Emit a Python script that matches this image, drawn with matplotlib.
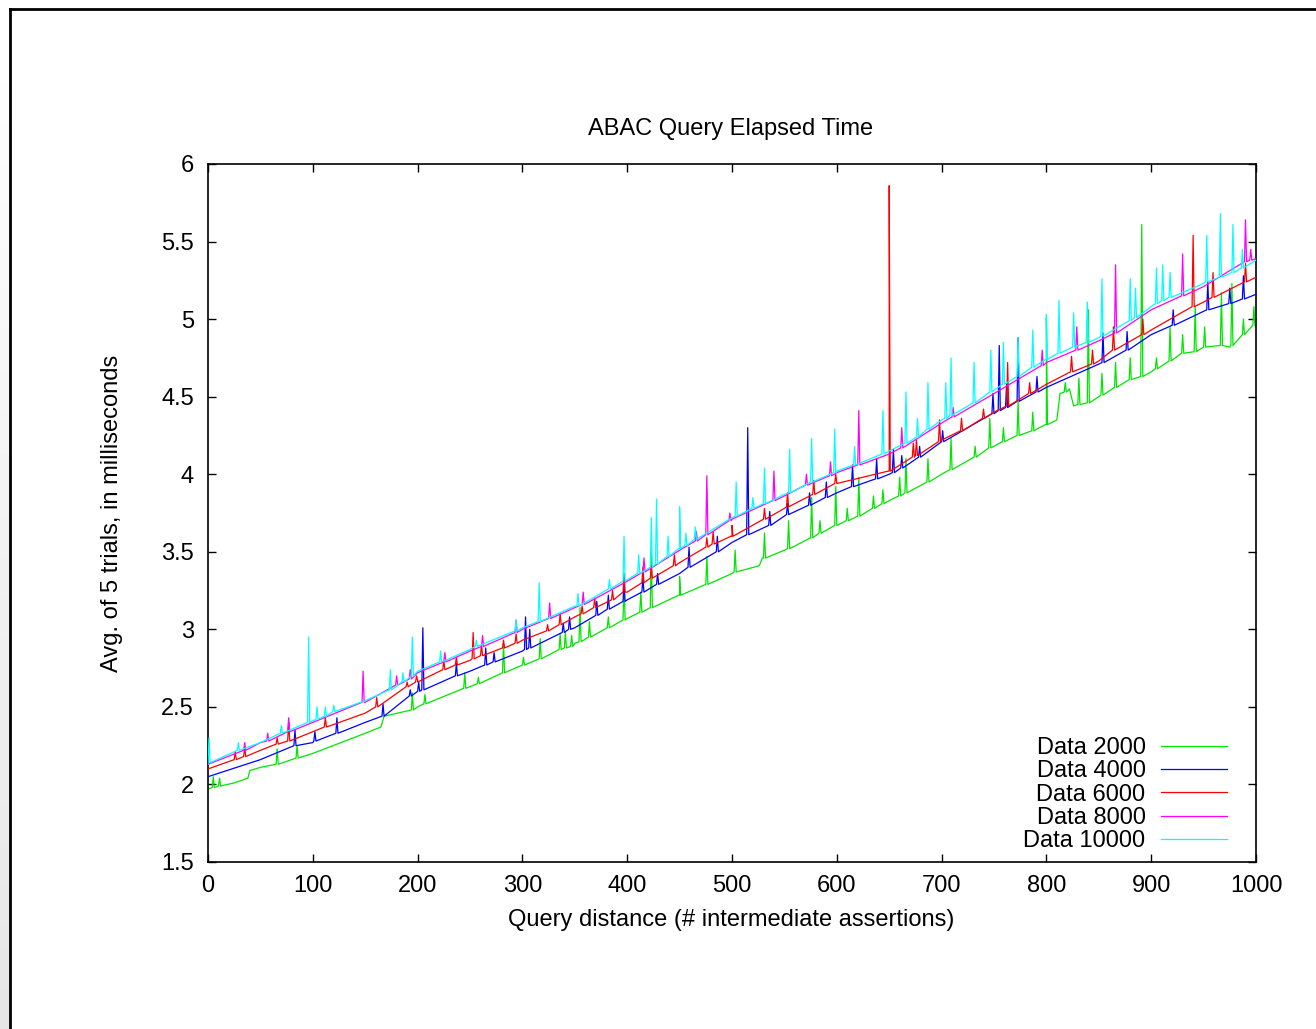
import matplotlib
matplotlib.use("Agg")
import matplotlib.pyplot as plt
import numpy as np
from matplotlib.lines import Line2D
from matplotlib.ticker import FormatStrFormatter, MultipleLocator

plt.rcParams["font.family"] = ["Liberation Sans", "DejaVu Sans"]

# baseline readings (query distance -> ms)
x_base = [0, 50, 100, 150, 200, 250, 300, 350, 400, 450, 500,
          550, 600, 650, 700, 750, 800, 850, 900, 950, 1000]
base_4000 = [2.05, 2.16, 2.27, 2.40, 2.60, 2.73, 2.86, 3.01, 3.19, 3.36, 3.56,
             3.73, 3.88, 4.00, 4.21, 4.39, 4.56, 4.71, 4.90, 5.05, 5.16]
base_6000 = [2.10, 2.22, 2.34, 2.46, 2.67, 2.80, 2.93, 3.08, 3.24, 3.43, 3.60,
             3.78, 3.94, 4.02, 4.22, 4.40, 4.58, 4.73, 4.93, 5.11, 5.27]
base_8000 = [2.13, 2.27, 2.40, 2.53, 2.72, 2.86, 3.00, 3.14, 3.31, 3.51, 3.71,
             3.86, 4.01, 4.13, 4.33, 4.52, 4.72, 4.86, 5.06, 5.21, 5.39]
base_10000 = [2.13, 2.27, 2.41, 2.54, 2.73, 2.87, 3.01, 3.15, 3.32, 3.52, 3.72,
              3.87, 4.02, 4.15, 4.35, 4.54, 4.74, 4.88, 5.08, 5.23, 5.38]

# Data 2000 has a few visible steps, so it gets its own x readings
x_2000 = [0, 25, 38, 40, 50, 100, 150, 165, 168, 200, 250, 300, 350, 400, 450,
          500, 526, 529, 550, 600, 650, 700, 750, 800, 810, 813, 822, 826, 850,
          900, 950, 975, 1000]
base_2000 = [1.97, 2.01, 2.04, 2.09, 2.11, 2.20, 2.33, 2.37, 2.44, 2.50, 2.63,
             2.77, 2.91, 3.07, 3.22, 3.36, 3.41, 3.46, 3.51, 3.67, 3.83, 4.00,
             4.18, 4.32, 4.35, 4.52, 4.55, 4.44, 4.50, 4.66, 4.82, 4.82, 4.95]

# spikes: (x, foot, peak)
spikes_2000 = [(5, 1.98, 2.05), (11, 1.99, 2.04), (66, 2.13, 2.23), (85, 2.17, 2.25),
               (195, 2.48, 2.59), (207, 2.52, 2.58), (245, 2.62, 2.72), (258, 2.65, 2.69),
               (282, 2.72, 2.91), (301, 2.77, 2.82), (317, 2.81, 2.94), (336, 2.87, 2.97),
               (341, 2.88, 2.98), (347, 2.89, 2.96), (355, 2.92, 3.14), (364, 2.95, 3.05),
               (382, 3.01, 3.08), (397, 3.06, 3.30), (413, 3.11, 3.24), (423, 3.14, 3.50),
               (450, 3.22, 3.34), (476, 3.29, 3.47), (503, 3.37, 3.51), (531, 3.46, 3.62),
               (554, 3.52, 3.70), (576, 3.59, 3.85), (584, 3.62, 3.70), (599, 3.67, 3.92),
               (610, 3.70, 3.78), (621, 3.73, 3.98), (635, 3.78, 3.86), (644, 3.81, 3.90),
               (660, 3.86, 3.98), (666, 3.88, 4.10), (687, 3.95, 4.10), (709, 4.03, 4.23),
               (732, 4.11, 4.18), (746, 4.17, 4.36), (759, 4.21, 4.30), (773, 4.25, 4.47),
               (787, 4.28, 4.40), (800, 4.32, 5.01), (818, 4.53, 4.59), (831, 4.45, 4.62),
               (840, 4.46, 5.06), (853, 4.51, 4.65), (866, 4.56, 4.72), (880, 4.61, 4.75),
               (891, 4.63, 5.61), (905, 4.68, 4.75), (918, 4.73, 4.95), (930, 4.78, 4.90),
               (942, 4.79, 5.08), (951, 4.82, 4.95), (967, 4.83, 5.17), (977, 4.83, 5.23),
               (988, 4.90, 5.00), (998, 4.96, 5.08)]
spikes_4000 = [(83, 2.25, 2.35), (102, 2.28, 2.34), (123, 2.33, 2.43), (167, 2.44, 2.52),
               (193, 2.57, 2.61), (201, 2.60, 2.66), (205, 2.61, 3.01), (237, 2.70, 2.78),
               (265, 2.77, 2.88), (273, 2.79, 2.85), (303, 2.87, 3.08), (307, 2.88, 3.00),
               (339, 2.98, 3.04), (345, 3.00, 3.08), (371, 3.09, 3.18), (382, 3.13, 3.22),
               (397, 3.18, 3.30), (415, 3.24, 3.33), (429, 3.29, 3.36), (459, 3.40, 3.53),
               (486, 3.50, 3.60), (515, 3.61, 4.30), (536, 3.67, 3.76), (553, 3.74, 3.81),
               (574, 3.80, 3.88), (590, 3.85, 3.95), (615, 3.92, 4.06), (638, 3.97, 4.10),
               (654, 4.01, 4.16), (662, 4.04, 4.12), (679, 4.11, 4.18), (701, 4.21, 4.28),
               (749, 4.39, 4.52), (755, 4.41, 4.83), (762, 4.43, 4.58), (773, 4.47, 4.88),
               (791, 4.53, 4.63), (854, 4.72, 4.91), (877, 4.80, 4.92), (921, 4.96, 5.06),
               (954, 5.06, 5.24), (975, 5.10, 5.20), (988, 5.13, 5.28)]
spikes_6000 = [(26, 2.16, 2.21), (35, 2.18, 2.24), (66, 2.26, 2.30), (77, 2.28, 2.40),
               (112, 2.37, 2.43), (161, 2.50, 2.56), (190, 2.63, 2.66), (199, 2.66, 2.70),
               (225, 2.74, 2.80), (237, 2.77, 2.82), (253, 2.81, 2.98), (261, 2.83, 2.90),
               (282, 2.88, 2.93), (294, 2.91, 2.97), (324, 2.99, 3.03), (336, 3.03, 3.10),
               (357, 3.10, 3.15), (369, 3.14, 3.20), (386, 3.19, 3.25), (397, 3.24, 3.36),
               (415, 3.30, 3.40), (423, 3.33, 3.41), (445, 3.41, 3.48), (476, 3.53, 3.59),
               (482, 3.55, 3.63), (500, 3.60, 3.67), (531, 3.71, 3.78), (553, 3.79, 3.88),
               (578, 3.87, 3.96), (599, 3.94, 4.00), (650, 4.02, 5.86), (673, 4.11, 4.20),
               (676, 4.12, 4.22), (698, 4.21, 4.35), (719, 4.28, 4.36), (740, 4.36, 4.42),
               (763, 4.44, 4.72), (784, 4.52, 4.59), (824, 4.66, 4.76), (844, 4.71, 4.80),
               (864, 4.80, 4.95), (892, 4.90, 5.00), (940, 5.08, 5.54), (959, 5.14, 5.30),
               (990, 5.24, 5.36)]
spikes_8000 = [(35, 2.22, 2.27), (57, 2.28, 2.33), (77, 2.34, 2.43), (148, 2.53, 2.73),
               (180, 2.64, 2.70), (193, 2.68, 2.74), (226, 2.79, 2.85), (262, 2.89, 2.96),
               (294, 2.98, 3.06), (326, 3.07, 3.17), (358, 3.16, 3.24), (416, 3.37, 3.46),
               (466, 3.57, 3.63), (476, 3.61, 3.99), (498, 3.70, 3.75), (540, 3.83, 4.02),
               (571, 3.93, 4.00), (594, 3.99, 4.08), (621, 4.06, 4.41), (662, 4.17, 4.30),
               (711, 4.37, 4.43), (796, 4.70, 4.80), (829, 4.80, 4.95), (866, 4.91, 5.35),
               (930, 5.15, 5.42), (990, 5.37, 5.64), (995, 5.38, 5.45)]
spikes_10000 = [(1, 2.14, 2.30), (29, 2.22, 2.27), (70, 2.33, 2.38), (96, 2.40, 2.95),
                (104, 2.42, 2.50), (112, 2.44, 2.50), (120, 2.47, 2.51), (174, 2.61, 2.74),
                (186, 2.66, 2.72), (195, 2.70, 2.95), (222, 2.79, 2.86), (256, 2.89, 2.93),
                (294, 2.99, 3.06), (316, 3.05, 3.30), (353, 3.15, 3.23), (383, 3.26, 3.32),
                (397, 3.31, 3.60), (411, 3.36, 3.48), (423, 3.40, 3.72), (428, 3.42, 3.84),
                (439, 3.47, 3.60), (450, 3.52, 3.79), (456, 3.54, 3.62), (465, 3.58, 3.66),
                (504, 3.73, 3.95), (520, 3.78, 3.85), (531, 3.81, 4.04), (555, 3.88, 4.16),
                (576, 3.95, 4.23), (598, 4.01, 4.29), (617, 4.06, 4.18), (644, 4.13, 4.41),
                (666, 4.20, 4.53), (677, 4.24, 4.36), (687, 4.29, 4.59), (704, 4.36, 4.59),
                (709, 4.38, 4.75), (731, 4.46, 4.72), (747, 4.53, 4.80), (759, 4.58, 4.85),
                (773, 4.63, 4.88), (787, 4.69, 4.93), (800, 4.74, 5.03), (812, 4.78, 5.12),
                (826, 4.82, 5.04), (839, 4.85, 5.11), (853, 4.89, 5.26), (880, 4.99, 5.26),
                (885, 5.01, 5.20), (905, 5.10, 5.33), (911, 5.12, 5.35), (918, 5.14, 5.30),
                (953, 5.24, 5.54), (966, 5.27, 5.68), (978, 5.30, 5.61), (987, 5.33, 5.45)]

labels = ["Data 2000", "Data 4000", "Data 6000", "Data 8000", "Data 10000"]
colors = ["#00e600", "#0000ff", "#ff0000", "#ff00ff", "#00ffff"]


def build(xb, yb, spikes):
    # merge baseline readings with the spike readings, ordered by x
    pts = list(zip(xb, yb))
    for x, foot, peak in spikes:
        pts += [(x - 1, foot), (x, peak), (x + 1, foot)]
    pts.sort(key=lambda p: p[0])
    return [p[0] for p in pts], [p[1] for p in pts]


series = [build(x_2000, base_2000, spikes_2000),
          build(x_base, base_4000, spikes_4000),
          build(x_base, base_6000, spikes_6000),
          build(x_base, base_8000, spikes_8000),
          build(x_base, base_10000, spikes_10000)]

W, H = 1316, 1029
fig = plt.figure(figsize=(W / 100, H / 100), dpi=100)

# page edge: grey strip on the left, black frame line top and left
strip = fig.add_axes([0, 0, 10 / W, 1])
strip.imshow(np.linspace(1.0, 0.9, 50).reshape(-1, 1), cmap="gray", vmin=0, vmax=1,
             aspect="auto", extent=[0, 1, 0, 1])
strip.axis("off")
fig.add_artist(Line2D([10 / W, 10 / W], [0, 1 - 9 / H], color="black", lw=2.0))
fig.add_artist(Line2D([10 / W, 1], [1 - 9 / H, 1 - 9 / H], color="black", lw=2.0))

ax = fig.add_axes([208 / W, 1 - 862 / H, 1048 / W, 698 / H])
for (xs, ys), lab, c, z in zip(series, labels, colors, range(5)):
    ax.plot(xs, ys, color=c, lw=0.9, label=lab, zorder=2 + z)

ax.set_xlim(0, 1000)
ax.set_ylim(1.5, 6)
ax.xaxis.set_major_locator(MultipleLocator(100))
ax.yaxis.set_major_locator(MultipleLocator(0.5))
ax.yaxis.set_major_formatter(FormatStrFormatter("%g"))
ax.tick_params(direction="in", length=6, width=1.0, top=True, right=True,
               labelsize=17)
ax.tick_params(axis="y", pad=10)
ax.tick_params(axis="x", pad=9)
for s in ax.spines.values():
    s.set_linewidth(1.2)

fig.text(731 / W, 1 - 129 / H, "ABAC Query Elapsed Time", ha="center", va="center",
         fontsize=17)
fig.text(731 / W, 1 - 920 / H, "Query distance (# intermediate assertions)",
         ha="center", va="center", fontsize=17)
fig.text(112 / W, 1 - 513 / H, "Avg. of 5 trials, in milliseconds", ha="center",
         va="center", rotation=90, fontsize=17)

ax.legend(loc="lower right", bbox_to_anchor=((1227 - 208) / 1048, (862 - 852) / 698),
          frameon=False, markerfirst=False, fontsize=17, handlelength=2.8,
          handletextpad=0.65, labelspacing=0.05, borderpad=0, borderaxespad=0)

fig.savefig("out.png", dpi=100)
